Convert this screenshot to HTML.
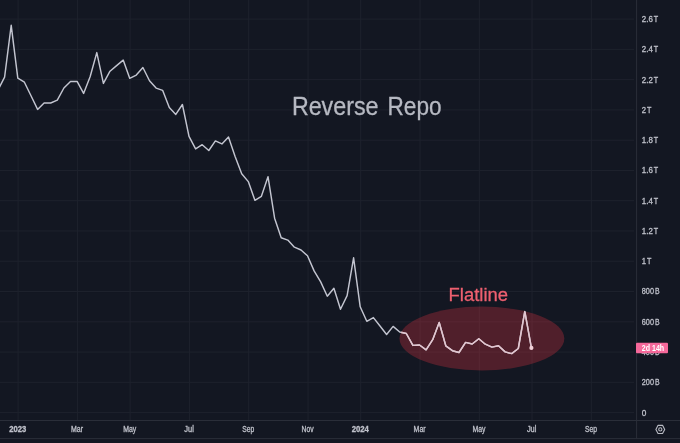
<!DOCTYPE html>
<html><head><meta charset="utf-8"><title>Reverse Repo</title>
<style>
html,body{margin:0;padding:0;background:#131722;}
body{width:680px;height:443px;overflow:hidden;position:relative;font-family:"Liberation Sans",sans-serif;}
svg{position:absolute;left:0;top:0;display:block;}
text{font-family:"Liberation Sans",sans-serif;}
</style></head>
<body>
<svg width="680" height="443" viewBox="0 0 680 443">
<rect width="680" height="443" fill="#131722"/>
<g stroke="#1e222d" stroke-width="1">
<line x1="0" y1="19.10" x2="634" y2="19.10"/>
<line x1="0" y1="49.37" x2="634" y2="49.37"/>
<line x1="0" y1="79.64" x2="634" y2="79.64"/>
<line x1="0" y1="109.91" x2="634" y2="109.91"/>
<line x1="0" y1="140.18" x2="634" y2="140.18"/>
<line x1="0" y1="170.45" x2="634" y2="170.45"/>
<line x1="0" y1="200.72" x2="634" y2="200.72"/>
<line x1="0" y1="230.99" x2="634" y2="230.99"/>
<line x1="0" y1="261.26" x2="634" y2="261.26"/>
<line x1="0" y1="291.53" x2="634" y2="291.53"/>
<line x1="0" y1="321.80" x2="634" y2="321.80"/>
<line x1="0" y1="352.07" x2="634" y2="352.07"/>
<line x1="0" y1="382.34" x2="634" y2="382.34"/>
<line x1="0" y1="412.61" x2="634" y2="412.61"/>
<line x1="18.10" y1="0" x2="18.10" y2="420"/>
<line x1="77.40" y1="0" x2="77.40" y2="420"/>
<line x1="130.11" y1="0" x2="130.11" y2="420"/>
<line x1="189.41" y1="0" x2="189.41" y2="420"/>
<line x1="248.72" y1="0" x2="248.72" y2="420"/>
<line x1="308.02" y1="0" x2="308.02" y2="420"/>
<line x1="360.73" y1="0" x2="360.73" y2="420"/>
<line x1="420.03" y1="0" x2="420.03" y2="420"/>
<line x1="479.33" y1="0" x2="479.33" y2="420"/>
<line x1="532.04" y1="0" x2="532.04" y2="420"/>
<line x1="591.34" y1="0" x2="591.34" y2="420"/>
</g>
<g stroke="#2a2e39" stroke-width="1">
<line x1="636.6" y1="0" x2="636.6" y2="438.5"/>
<line x1="0" y1="420.5" x2="680" y2="420.5"/>
<line x1="0" y1="438.6" x2="680" y2="438.6"/>
</g>
<defs><clipPath id="ec"><ellipse cx="481.9" cy="338.5" rx="82.4" ry="31.9"/></clipPath></defs>
<ellipse cx="481.9" cy="338.5" rx="82.4" ry="31.9" fill="#f23645" fill-opacity="0.28"/>
<path d="M-2.0,90.2 L4.6,77.1 L11.2,25.3 L17.8,78.1 L24.4,82.2 L31.0,95.8 L37.6,109.4 L44.1,103.0 L50.7,103.0 L57.3,100.2 L63.9,88.0 L70.5,81.4 L77.1,81.4 L83.6,93.4 L90.2,76.5 L96.8,52.6 L103.4,83.4 L110.0,71.2 L116.6,65.6 L123.2,60.1 L129.7,78.3 L136.3,75.1 L142.9,67.5 L149.5,80.8 L156.1,88.1 L162.7,90.4 L169.3,107.5 L175.8,114.4 L182.4,104.5 L189.0,136.3 L195.6,148.9 L202.2,144.7 L208.8,150.5 L215.4,140.9 L221.9,143.9 L228.5,137.0 L235.1,156.4 L241.7,173.8 L248.3,181.6 L254.9,200.3 L261.4,196.3 L268.0,176.7 L274.6,218.2 L281.2,237.8 L287.8,240.1 L294.4,247.2 L301.0,250.0 L307.5,255.8 L314.1,270.9 L320.7,281.9 L327.3,296.2 L333.9,288.2 L340.5,309.2 L347.1,295.6 L353.6,257.8 L360.2,306.8 L366.8,321.3 L373.4,317.6 L380.0,326.0 L386.6,334.5 L393.1,326.4 L399.7,332.0 L406.3,333.5 L412.9,345.4 L419.5,345.0 L426.1,349.8 L432.7,339.7 L439.2,322.5 L445.8,345.8 L452.4,350.7 L459.0,352.5 L465.6,342.4 L472.2,344.0 L478.8,338.7 L485.3,344.2 L491.9,347.1 L498.5,345.8 L505.1,351.9 L511.7,353.6 L518.3,348.5 L524.8,311.5 L531.4,347.9" fill="none" stroke="#c3c5d0" stroke-width="1.45" stroke-linejoin="round" stroke-linecap="round"/>
<g clip-path="url(#ec)">
<path d="M-2.0,90.2 L4.6,77.1 L11.2,25.3 L17.8,78.1 L24.4,82.2 L31.0,95.8 L37.6,109.4 L44.1,103.0 L50.7,103.0 L57.3,100.2 L63.9,88.0 L70.5,81.4 L77.1,81.4 L83.6,93.4 L90.2,76.5 L96.8,52.6 L103.4,83.4 L110.0,71.2 L116.6,65.6 L123.2,60.1 L129.7,78.3 L136.3,75.1 L142.9,67.5 L149.5,80.8 L156.1,88.1 L162.7,90.4 L169.3,107.5 L175.8,114.4 L182.4,104.5 L189.0,136.3 L195.6,148.9 L202.2,144.7 L208.8,150.5 L215.4,140.9 L221.9,143.9 L228.5,137.0 L235.1,156.4 L241.7,173.8 L248.3,181.6 L254.9,200.3 L261.4,196.3 L268.0,176.7 L274.6,218.2 L281.2,237.8 L287.8,240.1 L294.4,247.2 L301.0,250.0 L307.5,255.8 L314.1,270.9 L320.7,281.9 L327.3,296.2 L333.9,288.2 L340.5,309.2 L347.1,295.6 L353.6,257.8 L360.2,306.8 L366.8,321.3 L373.4,317.6 L380.0,326.0 L386.6,334.5 L393.1,326.4 L399.7,332.0 L406.3,333.5 L412.9,345.4 L419.5,345.0 L426.1,349.8 L432.7,339.7 L439.2,322.5 L445.8,345.8 L452.4,350.7 L459.0,352.5 L465.6,342.4 L472.2,344.0 L478.8,338.7 L485.3,344.2 L491.9,347.1 L498.5,345.8 L505.1,351.9 L511.7,353.6 L518.3,348.5 L524.8,311.5 L531.4,347.9" fill="none" stroke="#e3c5cf" stroke-width="1.45" stroke-linejoin="round" stroke-linecap="round"/>
<circle cx="531.4" cy="347.9" r="2.1" fill="#f0d0d8"/>
</g>
<text y="115.2" font-size="26" fill="#b6b9c2" stroke="#b6b9c2" stroke-width="0.3"><tspan x="291.9" textLength="86.6" lengthAdjust="spacingAndGlyphs">Reverse</tspan><tspan> </tspan><tspan x="387.5" textLength="54" lengthAdjust="spacingAndGlyphs">Repo</tspan></text>
<text x="448.6" y="301.4" font-size="18" fill="#ee6070" stroke="#ee6070" stroke-width="0.3" textLength="59.4" lengthAdjust="spacingAndGlyphs">Flatline</text>
<g font-size="8.3" fill="#bfc1ca" stroke="#bfc1ca" stroke-width="0.3">
<text y="22.0"><tspan x="641.8" textLength="11.0" lengthAdjust="spacingAndGlyphs">2.6</tspan><tspan x="653.7" textLength="4.4" lengthAdjust="spacingAndGlyphs">T</tspan></text>
<text y="52.3"><tspan x="641.8" textLength="11.0" lengthAdjust="spacingAndGlyphs">2.4</tspan><tspan x="653.7" textLength="4.4" lengthAdjust="spacingAndGlyphs">T</tspan></text>
<text y="82.5"><tspan x="641.8" textLength="11.0" lengthAdjust="spacingAndGlyphs">2.2</tspan><tspan x="653.7" textLength="4.4" lengthAdjust="spacingAndGlyphs">T</tspan></text>
<text y="112.8"><tspan x="641.8" textLength="4.3" lengthAdjust="spacingAndGlyphs">2</tspan><tspan x="647.0" textLength="4.4" lengthAdjust="spacingAndGlyphs">T</tspan></text>
<text y="143.1"><tspan x="641.8" textLength="11.0" lengthAdjust="spacingAndGlyphs">1.8</tspan><tspan x="653.7" textLength="4.4" lengthAdjust="spacingAndGlyphs">T</tspan></text>
<text y="173.3"><tspan x="641.8" textLength="11.0" lengthAdjust="spacingAndGlyphs">1.6</tspan><tspan x="653.7" textLength="4.4" lengthAdjust="spacingAndGlyphs">T</tspan></text>
<text y="203.6"><tspan x="641.8" textLength="11.0" lengthAdjust="spacingAndGlyphs">1.4</tspan><tspan x="653.7" textLength="4.4" lengthAdjust="spacingAndGlyphs">T</tspan></text>
<text y="233.9"><tspan x="641.8" textLength="11.0" lengthAdjust="spacingAndGlyphs">1.2</tspan><tspan x="653.7" textLength="4.4" lengthAdjust="spacingAndGlyphs">T</tspan></text>
<text y="264.2"><tspan x="641.8" textLength="4.3" lengthAdjust="spacingAndGlyphs">1</tspan><tspan x="647.0" textLength="4.4" lengthAdjust="spacingAndGlyphs">T</tspan></text>
<text y="294.4"><tspan x="641.8" textLength="12.2" lengthAdjust="spacingAndGlyphs">800</tspan><tspan x="654.9" textLength="4.6" lengthAdjust="spacingAndGlyphs">B</tspan></text>
<text y="324.7"><tspan x="641.8" textLength="12.2" lengthAdjust="spacingAndGlyphs">600</tspan><tspan x="654.9" textLength="4.6" lengthAdjust="spacingAndGlyphs">B</tspan></text>
<text y="355.0"><tspan x="641.8" textLength="12.2" lengthAdjust="spacingAndGlyphs">400</tspan><tspan x="654.9" textLength="4.6" lengthAdjust="spacingAndGlyphs">B</tspan></text>
<text y="385.2"><tspan x="641.8" textLength="12.2" lengthAdjust="spacingAndGlyphs">200</tspan><tspan x="654.9" textLength="4.6" lengthAdjust="spacingAndGlyphs">B</tspan></text>
<text x="641.8" y="415.5" textLength="4.6" lengthAdjust="spacingAndGlyphs">0</text>
</g>
<g font-size="8.3" fill="#bfc1ca" stroke="#bfc1ca" stroke-width="0.3">
<text x="9.2" y="432.0" textLength="17" lengthAdjust="spacingAndGlyphs" font-weight="bold">2023</text>
<text x="71.0" y="432.0" textLength="12" lengthAdjust="spacingAndGlyphs">Mar</text>
<text x="123.2" y="432.0" textLength="13.1" lengthAdjust="spacingAndGlyphs">May</text>
<text x="184.3" y="432.0" textLength="9.5" lengthAdjust="spacingAndGlyphs">Jul</text>
<text x="242.3" y="432.0" textLength="12" lengthAdjust="spacingAndGlyphs">Sep</text>
<text x="301.6" y="432.0" textLength="12" lengthAdjust="spacingAndGlyphs">Nov</text>
<text x="351.7" y="432.0" textLength="17.2" lengthAdjust="spacingAndGlyphs" font-weight="bold">2024</text>
<text x="413.6" y="432.0" textLength="12" lengthAdjust="spacingAndGlyphs">Mar</text>
<text x="472.4" y="432.0" textLength="13.1" lengthAdjust="spacingAndGlyphs">May</text>
<text x="526.9" y="432.0" textLength="9.5" lengthAdjust="spacingAndGlyphs">Jul</text>
<text x="584.9" y="432.0" textLength="12" lengthAdjust="spacingAndGlyphs">Sep</text>
</g>
<rect x="636" y="342.7" width="32" height="10.5" rx="1" fill="#f5689a"/>
<text x="641.8" y="350.9" font-size="8.2" font-weight="bold" fill="#ffffff" textLength="22.4" lengthAdjust="spacingAndGlyphs">2d 14h</text>
<g fill="none" stroke="#b8bac3" stroke-width="1.1" stroke-linejoin="round">
<polygon points="664.7,429.4 662.55,433.45 658.05,433.45 655.9,429.4 658.05,425.35 662.55,425.35"/>
<circle cx="660.3" cy="429.4" r="1.6"/>
</g>
</svg>
</body></html>
